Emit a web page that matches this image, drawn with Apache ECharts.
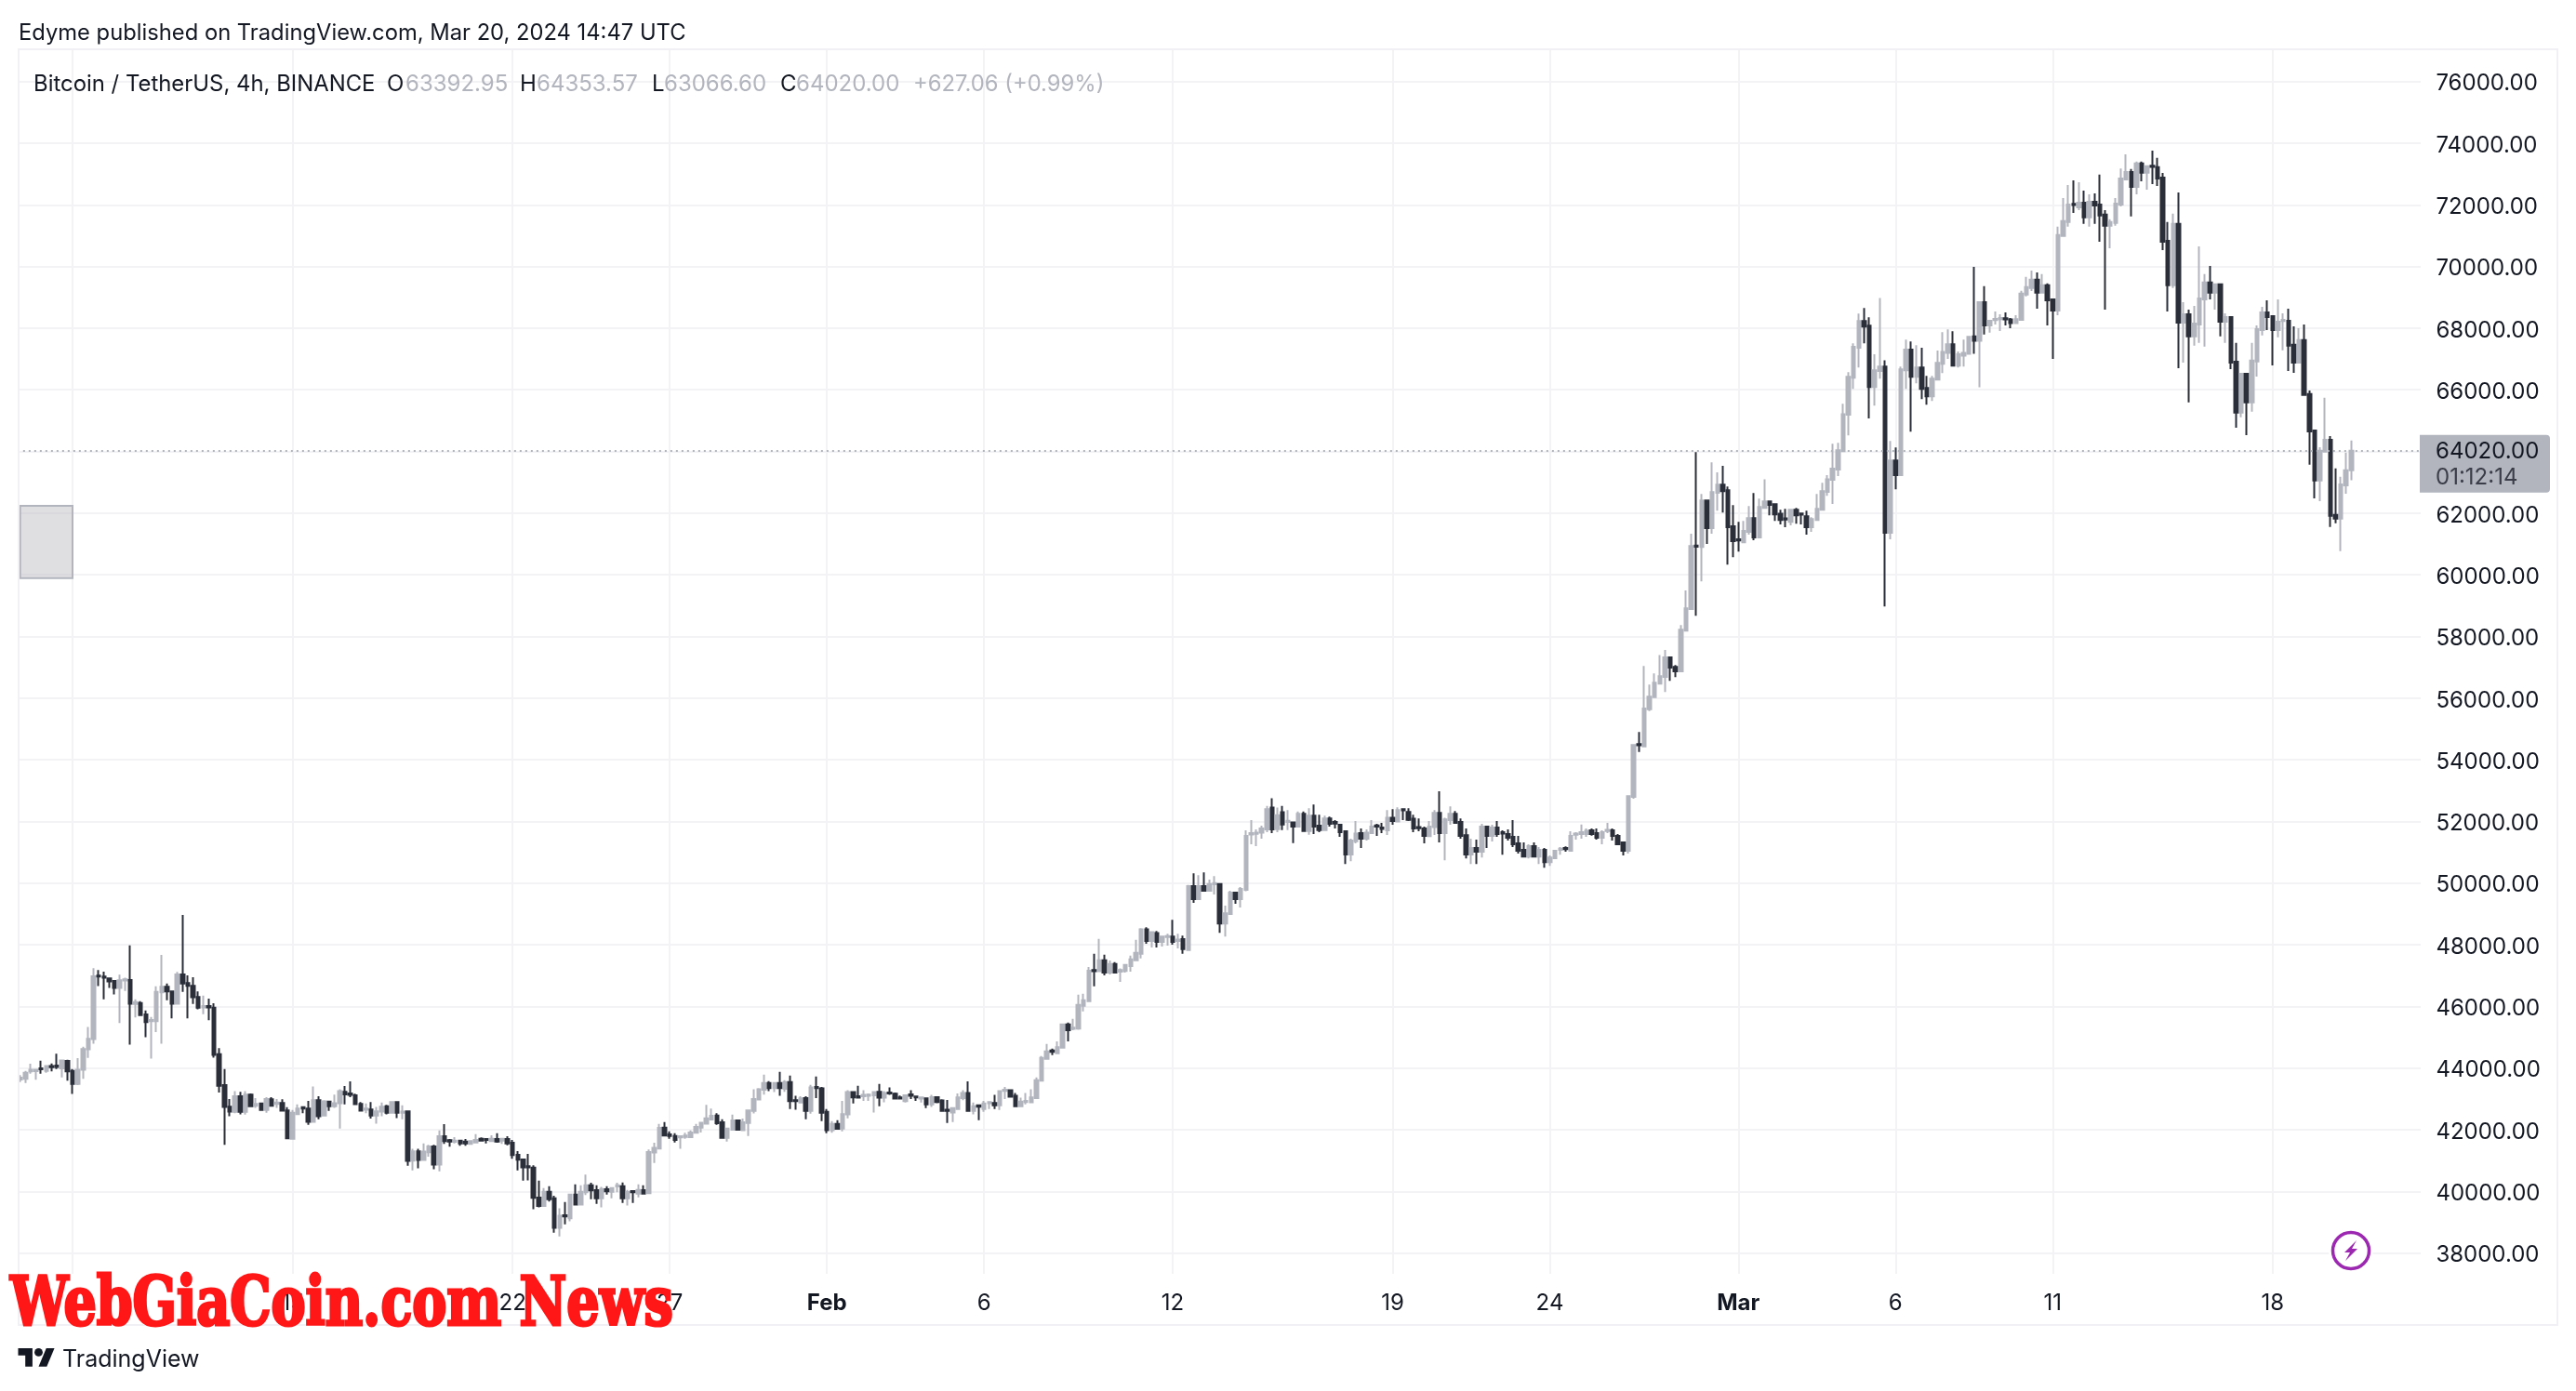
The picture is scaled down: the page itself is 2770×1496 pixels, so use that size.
<!DOCTYPE html>
<html><head><meta charset="utf-8">
<style>html,body{margin:0;padding:0;background:#fff}#c{width:2770px;height:1496px}</style>
<script src="https://cdn.jsdelivr.net/npm/echarts@6/dist/echarts.min.js"></script>
</head><body><div id="c"></div>
<script>
// every candle is [open, close, low, high], 4h bars from Jan 6 08:00 UTC
const janCandles=[
[43630,43690,43550,43770],[43650,43850,43520,43910],[43890,43950,43820,44140],[43900,43950,43620,43970],[43990,43960,43820,44240],[43910,44070,43850,44090],[44070,44030,43890,44150],[44080,44040,43970,44470],[43990,44250,43700,44270],[44230,43890,43590,44270],
[43910,43490,43160,43970],[43490,43950,43450,44320],[43950,44620,43650,44690],[44610,44950,44330,45330],[44940,46980,44790,47240],[47000,46970,46660,47180],[46970,46930,46230,47130],[46910,46810,46600,46930],[46830,46600,46390,46860],[46600,46850,45460,47030],
[46840,46880,46500,46930],[46860,46090,44760,47980],[46080,46140,45640,46230],[46110,45720,45700,46170],[45740,45490,45000,45870],[45520,45560,44310,45660],[45520,46470,45170,46650],[46460,46640,44790,47670],[46640,46490,46200,46740],[46490,46090,45610,46500],
[46090,47040,46060,47120],[47040,46740,46470,48970],[46760,46670,45610,47010],[46670,46300,46080,46950],[46310,45960,45910,46490],[45970,46010,45750,46350],[46010,45970,45550,46250],[45960,44430,44340,46100],[44450,43430,43210,44650],[43450,42740,41510,43970],
[42750,42590,42440,43000],[42580,43090,42540,43250],[43090,42580,42500,43230],[42580,43140,42490,43250],[43140,42760,42730,43180],[42780,42840,42710,43030],[42850,42640,42630,42880],[42640,43000,42550,43060],[42990,42780,42750,43060],[42840,42880,42710,43000],
[42870,42620,42610,42990],[42630,41720,41710,42730],[41710,42550,41710,42640],[42510,42690,42480,42820],[42730,42690,42540,42760],[42690,42260,42160,42940],[42260,42960,42240,43400],[42960,42440,42340,43090],[42460,42920,42440,42960],[42910,42760,42610,42930],
[42760,42860,42710,43140],[42860,43250,42040,43310],[43230,43150,42820,43420],[43180,43130,43060,43570],[43120,42830,42810,43170],[42840,42620,42600,42900],[42650,42690,42540,42850],[42660,42460,42360,42900],[42460,42600,42200,42740],[42590,42750,42440,42880],
[42760,42550,42500,42810],[42550,42900,42530,42910],[42900,42550,42380,42910],[42550,42590,42340,42790],[42600,40990,40830,42610],[41000,41300,40680,41380],[41300,41020,40750,41380],[41020,41290,41000,41560],[41270,41460,41130,41510],[41460,40870,40720,41510],
[40870,41790,40650,41980],[41790,41630,41540,42180],[41660,41620,41450,41700],[41610,41650,41560,41760],[41650,41560,41480,41680],[41620,41560,41480,41700],[41540,41630,41530,41660],[41590,41670,41580,41860],[41710,41650,41630,41750],[41700,41670,41560,41710],
[41630,41710,41620,41820],[41700,41620,41580,41890],[41650,41710,41540,41740],[41700,41560,41500,41790],[41580,41180,41060,41670],[41190,41030,40680,41310],[41040,40780,40350,41040],[40820,40780,40360,41220],[40770,39790,39420,40850],[39800,39530,39480,40350],
[39530,39990,39510,40110],[39990,39750,39670,40170],[39780,38820,38660,39860],[38820,39210,38540,39450],[39230,39190,38930,39660],[39130,39900,39030,39900],[39900,39570,39570,40230],[39570,39990,39550,40200],[39970,40200,39880,40550],[40200,40030,39750,40280],
[40040,39780,39600,40200],[39780,40080,39480,40150],[40070,40000,39900,40170],[39990,40110,39780,40130],[40160,40200,39970,40280],[40170,39780,39630,40290],[39780,39980,39540,40050],[40010,39970,39630,40020],[39930,40050,39810,40230],[40040,39930,39910,40200],
[39940,41280,39930,41360],[41260,41410,40920,41580],[41390,42060,41380,42190],[42070,41810,41800,42250],[41850,41800,41710,41950],[41800,41670,41590,41890],[41750,41790,41380,41810],[41770,41810,41710,41900],[41760,41910,41740,41980],[41900,42090,41880,42190],
[42070,42230,41910,42250],[42200,42370,42180,42810],[42330,42450,42310,42690],[42460,42210,42160,42540],[42240,41740,41710,42340],[41740,42040,41620,42060],[42000,42300,41980,42490],[42300,42000,41980,42330],[41990,42240,41960,42360],[42220,42630,41800,42630],
[42610,43000,42530,43310],[42980,43310,42960,43350],[43300,43520,43140,43790],[43520,43350,43250,43580],[43350,43520,43220,43520],[43520,43350,43100,43880],[43330,43550,43230,43610],[43550,42930,42670,43760],[42960,42930,42650,43100],[42880,43020,42860,43090],
[43030,42610,42340,43090],[42610,43370,42520,43460],[43390,43350,43030,43730],[43340,42550,42280,43390]
];
const febCandles=[
[42580,41990,41890,42670],[41990,42190,41900,42280],[42190,42030,42010,42310],[42040,42510,41950,42940],[42500,43220,42370,43280],[43220,43050,42850,43250],
[43090,43040,43020,43430],[43090,43130,42940,43280],[43100,43140,42940,43180],[43120,43220,42560,43250],[43230,43040,42760,43490],[43040,43190,42890,43250],[43210,43180,43130,43370],[43170,43010,43000,43210],[43050,43010,43000,43110],[42930,43120,42880,43140],
[43150,43100,43000,43280],[43080,43050,42940,43090],[43010,43050,42880,43060],[43020,42820,42700,43040],[42820,43060,42740,43130],[43060,42900,42860,43090],[42950,42610,42590,42990],[42650,42610,42220,42970],[42560,42700,42250,42720],[42670,43050,42640,43180],
[43030,43190,42960,43280],[43190,42610,42580,43570],[42610,42760,42500,42880],[42790,42750,42310,42800],[42670,42850,42580,42940],[42860,42900,42670,42910],[42870,42790,42670,43130],[42790,43250,42640,43280],[43260,43300,43000,43390],[43280,43070,43040,43310],
[43100,42760,42760,43190],[42760,42910,42750,43040],[42900,42940,42820,43190],[42890,43050,42880,43310],[43030,43610,43000,43700],[43590,44330,43580,44390],[44300,44540,44290,44780],[44570,44530,44420,44630],[44480,44680,44470,44870],[44660,45420,44630,45450],
[45420,45230,44870,45480],[45270,45310,45230,45600],[45280,46050,45240,46380],[46020,46200,45840,46410],[46170,47160,46160,47280],[47180,47140,46650,47710],[47140,47500,47130,48190],[47500,47100,47010,47680],[47100,47380,47040,47490],[47380,47100,47090,47440],
[47130,47180,46800,47230],[47150,47350,47100,47380],[47310,47530,47130,47650],[47500,47740,47470,48160],[47710,48500,47560,48540],[48500,48120,48030,48570],[48120,48410,47910,48430],[48380,48090,47910,48450],[48090,48270,47940,48300],[48250,48280,47970,48360],
[48270,48090,48000,48810],[48120,48170,47880,48360],[48180,47860,47710,48300],[47830,49900,47800,49940],[49900,49480,49360,50320],[49480,49900,49470,50260],[49900,49750,49720,50350],[49750,49970,49740,50110],[49960,50000,49630,50230],[49970,48690,48390,49990],
[48690,49020,48270,49270],[49000,49690,48990,49750],[49690,49480,49330,49710],[49480,49810,49210,49870],[49780,51530,49740,51710],[51580,51620,51260,52040],[51600,51640,51200,51740],[51640,51770,51440,51860],[51740,52400,51650,52500],[52450,51740,51620,52750],
[51750,52200,51650,52450],[52300,51900,51720,52500],[51980,52020,51720,52370],[51970,51830,51300,51980],[51830,52250,51800,52320],[52250,51690,51680,52320],[51690,52190,51570,52430],[52190,51830,51590,52550],[51860,51720,51650,52220],[51720,52100,51690,52190],
[52100,51920,51830,52160],[51980,51930,51770,52040],[51890,51650,51500,51900],[51680,50930,50620,51710],[50930,51380,50710,51440],[51360,51610,51290,52010],[51620,51440,51140,51770],[51440,51640,51380,51740],[51620,51830,51610,52040],[51870,51830,51530,51920],
[51800,51760,51620,51950],[51710,52120,51560,52370],[52120,52010,51890,52400],[52000,52370,51980,52460],[52400,52360,52040,52430],[52310,52050,52010,52430],[52090,51770,51650,52220],[51820,51780,51680,52100],[51770,51530,51290,51830],[51520,51830,51500,52010],
[51820,52280,51560,52370],[52280,51620,51320,52980],[51620,52070,50740,52120],[52040,52250,51890,52490],[52250,51950,51940,52340],[51980,51530,51440,52100],[51550,50930,50800,51770],[50930,51140,50620,51440],[51140,51020,50620,51410],[51020,51830,50830,51920],
[51830,51530,51140,51860],[51530,51800,51350,51890],[51800,51590,51500,52010],[51650,51610,50920,51710],[51590,51470,51380,51740],[51500,51260,51170,52040],[51290,51050,50960,51530],[51080,50860,50850,51320],[50860,51200,50800,51260],[51200,50860,50830,51320],
[50860,51080,50620,51170],[51080,50680,50500,51140],[50680,50830,50560,50900],[50810,51050,50800,51080],[51080,51120,50920,51170],[51140,51100,51020,51190],[51050,51530,51040,51680],[51570,51610,51410,51650],[51590,51650,51440,51900],[51590,51700,51500,51770],
[51710,51590,51540,51770],[51620,51470,51410,51770],[51470,51650,51260,51710],[51690,51730,51620,51950],[51710,51530,51380,51770],[51530,51260,51250,51590],[51320,51050,50900,51350],[51050,52820,50960,52820],[52800,54480,52740,54500],[54510,54470,54250,54900],
[54430,55660,54420,57040],[55640,56050,55580,56440],[56030,56500,56020,56800],[56470,56710,56440,57400],[56690,57320,56200,57560],[57320,56990,56560,57350],[57010,56870,56680,57070],[56870,58220,56860,58370],[58190,58910,58160,59490],[58890,60930,58880,61330],
[60950,60910,58670,63980],[60900,62410,59790,62620],[62410,61510,61000,62420],[61510,62680,61330,63650],[62660,62920,62080,63320],[62920,62710,62020,63530],[62740,61540,60330,62860],[61570,61090,60570,62260]
];
const marCandles=[
[61150,61110,60750,61720],[61050,61420,61050,61750],[61390,61840,61300,62230],[61840,61210,61120,62650],[61210,62200,61200,62470],[62170,62380,62150,63100],[62380,62270,61930,62410],[62290,61960,61750,62300],[61980,61780,61630,62110],[61830,61790,61540,62140],
[61720,62110,61600,62120],[62110,61930,61660,62170],[61990,61950,61630,61990],[61900,61540,61300,62080],[61540,61810,61390,61870],[61780,62140,61770,62620],[62110,62710,62080,62980],[62690,63100,62560,63230],[63080,63440,62300,64250],[63410,64040,63200,64280],
[64010,65210,64000,65550],[65190,66420,64520,66570],[66390,67390,66030,67510],[67360,68230,66720,68470],[68230,68050,67510,68650],[68080,66090,65070,68350],[66090,66630,65490,67150],[66610,66750,66360,68980],[66750,61360,58970,66960],[61360,63710,61150,64340],
[63710,63230,62770,64130],[63230,66660,63220,66750],[66630,67300,66030,67630],[67300,66420,64640,67570],[66420,66720,66210,67450],[66720,66030,65700,67360],[66060,65790,65520,66450],[65790,66360,65640,66450],[66330,66870,66320,67270],[66840,67230,66540,67870],
[67200,67480,67000,67960],[67480,66780,66770,67900],[66780,67150,66720,67240],[67110,67200,66750,67630],[67170,67720,67150,67750],[67730,67590,67170,69990],[67590,68840,66080,68840],[68840,68090,67790,69360],[68090,68240,67850,68270],[68260,68300,68120,68540],
[68290,68330,67910,68450],[68320,68280,68090,68510],[68280,68160,68000,68330],[68160,68290,68150,68420],[68270,69120,68260,69210],[69090,69330,69030,69660],[69300,69570,69200,69870],[69570,69150,68630,69810],[69150,69390,69140,69750],[69390,68900,68090,69450],
[68930,68570,67000,68930],[68570,71020,68420,71290],[70990,71470,70980,72220],[71440,72010,71290,72640],[72030,71990,71740,72790],[71920,72070,71830,72730],[72070,71590,71380,72460],[71590,72100,71290,72340],[72100,71980,71380,72370],[72010,71650,70800,72980],
[71680,71320,68600,71830],[71320,71440,70590,71530],[71410,72040,71320,72220],[72010,72850,71950,73180],[72820,73060,72810,73640],[73060,72580,71620,73160],[72580,73340,72340,73400],[73340,73040,72760,73400],[73040,73250,72490,73280],[73270,73230,72670,73760],
[73220,72850,72610,73520],[72880,70800,70530,73030],[70830,69390,68540,71440],[69390,71380,69300,71710],[71380,68180,66700,72400],[68180,68450,66880,68840],[68450,67730,65590,68600],[67730,68150,67430,68720],[68120,68960,67520,70650],[68930,69480,67400,69750],
[69480,69150,68930,70020],[69150,69420,68600,69450],[69420,68210,67730,69450],[68210,68360,67520,68480],[68360,66880,66670,68390],[66910,65260,64770,67520],[65260,66520,65110,66550],[66520,65590,64530,66550],[65590,66950,65290,67520],[66920,67970,66430,68090],
[67940,68510,67760,68690],[68510,68360,67940,68900],[68390,67940,66790,68420],[67940,68210,67700,68930],[68230,68270,67280,68480],[68240,67430,66610,68630],[67460,66880,66550,68060],[66880,67610,66870,68000],[67610,65830,65820,68120],[65860,64650,63570,65980],
[64680,63060,62480,64710],[63060,64020,62390,64140],[63990,64380,63980,65740],[64380,61910,61550,64500],[61940,61820,61670,63450],[61820,62930,60770,63180],[62900,63390,62630,63960],[63392.95,64020,63066.6,64353.57]
];
const priceTicks=[38000,40000,42000,44000,46000,48000,50000,52000,54000,56000,58000,60000,62000,64000,66000,68000,70000,72000,74000,76000];
const timeLabels=['8','15','22','27','Feb','6','12','19','24','Mar','6','11','18'];
const timeBars=[10,52,94,124,154,184,220,262,292,328,358,388,430];
const lastClose=64020;
const drawnBox=[59890,62240];
const publishedLine='Edyme published on TradingView.com, Mar 20, 2024 14:47 UTC';
const symbolLine='Bitcoin / TetherUS, 4h, BINANCE';
const ohlcValues=['63392.95','64353.57','63066.60','64020.00'];
const changeText='+627.06 (+0.99%)';
const countdown='01:12:14';

const candles=janCandles.concat(febCandles,marCandles);
const slots=459;
const cats=Array.from({length:slots},(_,i)=>{const k=timeBars.indexOf(i);return k<0?String(i):timeLabels[k];});
const FONT='Inter';
const DARK='#131722',UP='#b2b5be',DOWN='#2a2e39',GRID='#f3f3f6',FRAME='#f0f0f5';
const chart=echarts.init(document.getElementById('c'),null,{renderer:'canvas'});
const txt=(x,y,text,fill,size,extra)=>Object.assign({type:'text',z:120,x,y,style:{text,fill,font:`${size||24}px ${FONT}`,textVerticalAlign:'middle',textBaseline:'middle'}},extra||{});
const option={
 animation:false,
 backgroundColor:'#fff',
 grid:{left:18.85,top:53,width:5.633*slots,height:1317,containLabel:false},
 xAxis:{type:'category',data:cats,boundaryGap:true,
  axisLine:{show:false},axisTick:{show:false,alignWithLabel:true,interval:(i)=>timeBars.includes(i)},
  splitLine:{show:true,alignWithLabel:true,interval:(i)=>timeBars.includes(i),lineStyle:{color:GRID,width:2}},
  axisLabel:{interval:(i)=>timeBars.includes(i),margin:20,color:DARK,fontFamily:FONT,fontSize:24,
   formatter:v=>(v==='Feb'||v==='Mar')?`{b|${v}}`:v,rich:{b:{fontWeight:'bold',fontSize:24,fontFamily:FONT,color:DARK}}}},
 yAxis:{type:'value',position:'right',scale:true,min:37327,max:77044,
  axisLine:{show:false},
  axisTick:{show:false,customValues:priceTicks},
  splitLine:{show:true,lineStyle:{color:GRID,width:2}},
  axisLabel:{customValues:priceTicks,margin:15,color:DARK,fontFamily:FONT,fontSize:24,
   formatter:v=>`{p|${v.toFixed(2)}}`,rich:{p:{fontFamily:FONT,fontSize:24,color:DARK,padding:[5,0,0,0]}}}},
 series:[{type:'candlestick',data:candles,barWidth:4,large:false,progressive:0,
  itemStyle:{color:UP,color0:DOWN,borderColor:UP,borderColor0:DOWN,borderColorDoji:UP,borderWidth:2},
  markLine:{silent:true,symbol:'none',label:{show:false},lineStyle:{color:UP,type:[2,4],width:2},data:[{yAxis:lastClose}],animation:false},
  markArea:{silent:true,itemStyle:{color:'rgba(185,185,190,0.45)',borderColor:UP,borderWidth:2},data:[[{xAxis:0,yAxis:drawnBox[0]},{xAxis:10,yAxis:drawnBox[1]}]]}
 }]
};
chart.setOption(option);
const tagY=chart.convertToPixel({yAxisIndex:0},lastClose);
const lg=(x,y)=>[19.5+1.1*x,1445.6+1.1*y];
chart.setOption({graphic:{elements:[
 {type:'rect',z:50,shape:{x:0,y:40,width:19,height:1400},style:{fill:'#fff'}},
 {type:'rect',z:50,shape:{x:2603,y:50,width:6,height:1330},style:{fill:'#fff'}},
 {type:'rect',z:60,shape:{x:20,y:53,width:2730,height:1372},style:{fill:'none',stroke:FRAME,lineWidth:2}},
 txt(20,36,publishedLine,DARK,23.75),
 txt(36,90.5,symbolLine,DARK,23.9),
 txt(416,90.5,'O',DARK,24),txt(436,90.5,ohlcValues[0],UP,24),
 txt(559,90.5,'H',DARK,24),txt(577,90.5,ohlcValues[1],UP,24),
 txt(701,90.5,'L',DARK,24),txt(714,90.5,ohlcValues[2],UP,24),
 txt(839,90.5,'C',DARK,24),txt(856,90.5,ohlcValues[3],UP,24),
 txt(982,90.5,changeText,UP,23.8),
 {type:'rect',z:110,shape:{x:2602,y:tagY-17,width:140,height:62,r:[0,4,4,0]},style:{fill:UP}},
 txt(2619,tagY+1,lastClose.toFixed(2),DARK,24),
 txt(2619,tagY+29,countdown,'#3b3e48',24),
 {type:'circle',z:70,shape:{cx:2528,cy:1345,r:24},style:{fill:'#fff'}},
 {type:'circle',z:71,shape:{cx:2528,cy:1345,r:19.5},style:{fill:'none',stroke:'#9c27b0',lineWidth:3.5}},
 {type:'polygon',z:72,shape:{points:[[2534,1334],[2521,1347],[2527,1347],[2522,1356],[2535,1343],[2529,1343]]},style:{fill:'#9c27b0'}},
 {type:'polygon',z:130,shape:{points:[lg(14,22),lg(7,22),lg(7,11),lg(0,11),lg(0,4),lg(14,4)]},style:{fill:DARK}},
 {type:'polygon',z:130,shape:{points:[lg(28,22),lg(20,22),lg(27.5,4),lg(35.5,4)]},style:{fill:DARK}},
 {type:'circle',z:130,shape:{cx:41.5,cy:1454.4,r:4.4},style:{fill:DARK}},
 txt(67,1462,'TradingView',DARK,25),
 {type:'text',z:200,x:11,y:1406,scaleX:0.858,style:{text:'WebGiaCoin.com News',fill:'#ff1616',stroke:'#ff1616',lineWidth:3,font:'bold 72px "DejaVu Serif Condensed"',textBaseline:'middle',textVerticalAlign:'middle'}}
]}});
</script></body></html>
